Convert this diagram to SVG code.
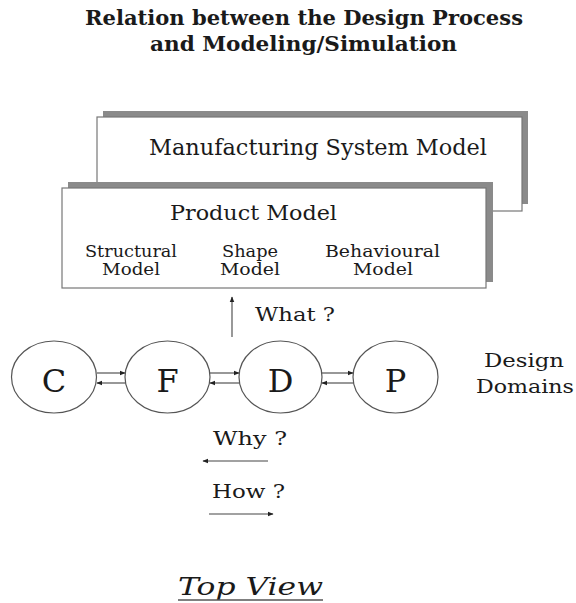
<svg xmlns="http://www.w3.org/2000/svg" width="576" height="603" viewBox="0 0 576 603">
<defs>
<style>
.t{font-family:"DejaVu Serif","Liberation Serif",serif;fill:#1a1a1a}
.shadow{fill:#8a8a8a}
.face{fill:#fff;stroke:#777;stroke-width:1.2}
.node{fill:#fff;stroke:#555;stroke-width:1.2}
.ln{stroke:#444;stroke-width:1.1;fill:none}
</style>
<marker id="ah" viewBox="0 0 10 10" refX="9" refY="5" markerWidth="6" markerHeight="6" orient="auto" markerUnits="userSpaceOnUse">
<path d="M0,1 L10,5 L0,9 Z" fill="#222"/>
</marker>
</defs>
<rect width="576" height="603" fill="#fff"/>
<g id="title">
<text class="t" x="304" y="25" font-size="19.5" font-weight="bold" text-anchor="middle" textLength="438" lengthAdjust="spacingAndGlyphs">Relation between the Design Process</text>
<text class="t" x="303.5" y="51" font-size="19.5" font-weight="bold" text-anchor="middle" textLength="307" lengthAdjust="spacingAndGlyphs">and Modeling/Simulation</text>
</g>
<g id="manufacturing">
<rect class="shadow" x="103" y="111" width="425" height="93"/>
<rect class="face" x="97" y="117" width="425" height="94"/>
<text class="t" x="318" y="155" font-size="21.5" text-anchor="middle" textLength="338" lengthAdjust="spacingAndGlyphs">Manufacturing System Model</text>
</g>
<g id="product">
<rect class="shadow" x="68" y="182" width="425" height="100"/>
<rect class="face" x="62" y="188" width="424" height="100"/>
<text class="t" x="253.5" y="220" font-size="21" text-anchor="middle" textLength="167" lengthAdjust="spacingAndGlyphs">Product Model</text>
<text class="t" x="131" y="257" font-size="16" text-anchor="middle" textLength="92" lengthAdjust="spacingAndGlyphs">Structural</text>
<text class="t" x="131" y="275" font-size="16" text-anchor="middle" textLength="58" lengthAdjust="spacingAndGlyphs">Model</text>
<text class="t" x="250" y="257" font-size="16" text-anchor="middle" textLength="56" lengthAdjust="spacingAndGlyphs">Shape</text>
<text class="t" x="250" y="275" font-size="16" text-anchor="middle" textLength="60" lengthAdjust="spacingAndGlyphs">Model</text>
<text class="t" x="382.5" y="257" font-size="16" text-anchor="middle" textLength="115" lengthAdjust="spacingAndGlyphs">Behavioural</text>
<text class="t" x="383" y="275" font-size="16" text-anchor="middle" textLength="60" lengthAdjust="spacingAndGlyphs">Model</text>
</g>
<g id="connectors">
<line class="ln" x1="232" y1="337" x2="232" y2="297" marker-end="url(#ah)"/>
<line class="ln" x1="97" y1="373" x2="125" y2="373" marker-end="url(#ah)"/>
<line class="ln" x1="125" y1="383" x2="97" y2="383" marker-end="url(#ah)"/>
<line class="ln" x1="210" y1="373" x2="239" y2="373" marker-end="url(#ah)"/>
<line class="ln" x1="239" y1="383" x2="210" y2="383" marker-end="url(#ah)"/>
<line class="ln" x1="322" y1="373" x2="353" y2="373" marker-end="url(#ah)"/>
<line class="ln" x1="353" y1="383" x2="322" y2="383" marker-end="url(#ah)"/>
<line class="ln" x1="268" y1="461" x2="203" y2="461" marker-end="url(#ah)"/>
<line class="ln" x1="209" y1="514" x2="273" y2="514" marker-end="url(#ah)"/>
</g>
<g id="what-label">
<text class="t" x="255" y="321" font-size="19" textLength="80" lengthAdjust="spacingAndGlyphs">What ?</text>
</g>
<g id="node-C">
<ellipse class="node" cx="54" cy="377" rx="42.5" ry="36"/>
<text class="t" x="54" y="392" font-size="32" text-anchor="middle">C</text>
</g>
<g id="node-F">
<ellipse class="node" cx="167.5" cy="377" rx="42.5" ry="36"/>
<text class="t" x="167.5" y="392" font-size="32" text-anchor="middle">F</text>
</g>
<g id="node-D">
<ellipse class="node" cx="280.5" cy="377" rx="41.5" ry="36"/>
<text class="t" x="280.5" y="392" font-size="32" text-anchor="middle">D</text>
</g>
<g id="node-P">
<ellipse class="node" cx="395.5" cy="377" rx="42.5" ry="36"/>
<text class="t" x="395.5" y="392" font-size="32" text-anchor="middle">P</text>
</g>
<g id="domains-label">
<text class="t" x="524" y="367" font-size="19" text-anchor="middle" textLength="80" lengthAdjust="spacingAndGlyphs">Design</text>
<text class="t" x="525" y="393" font-size="19" text-anchor="middle" textLength="98" lengthAdjust="spacingAndGlyphs">Domains</text>
</g>
<g id="why-how">
<text class="t" x="213" y="445" font-size="19" textLength="74" lengthAdjust="spacingAndGlyphs">Why ?</text>
<text class="t" x="212" y="498" font-size="19" textLength="73" lengthAdjust="spacingAndGlyphs">How ?</text>
</g>
<g id="top-view">
<text class="t" x="250.5" y="595" font-size="25" font-style="italic" text-anchor="middle" textLength="145" lengthAdjust="spacingAndGlyphs">Top View</text>
<line x1="178" y1="600" x2="323" y2="600" stroke="#555" stroke-width="1.5"/>
</g>
</svg>
